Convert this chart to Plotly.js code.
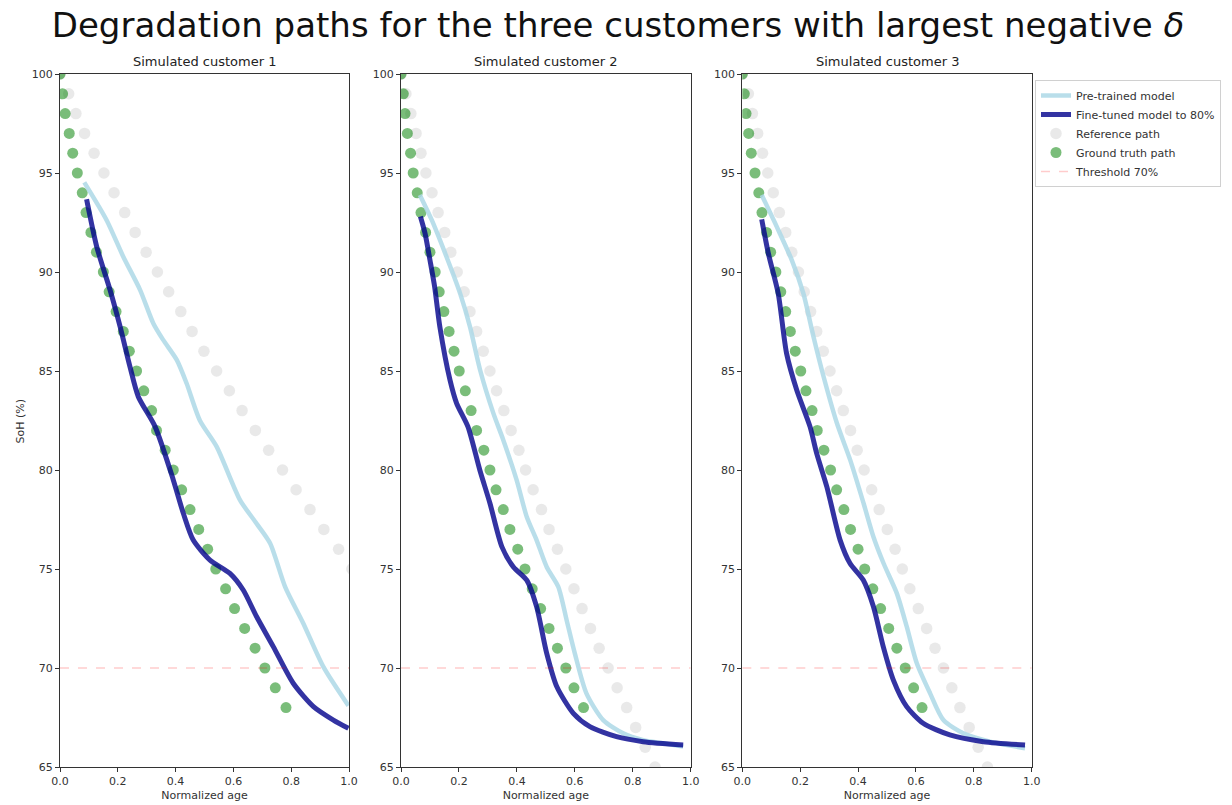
<!DOCTYPE html>
<html>
<head>
<meta charset="utf-8">
<script src="https://cdn.plot.ly/plotly-3.0.1.min.js"></script>
<style>html,body{margin:0;padding:0;background:#fff;}#chart{width:1232px;height:805px;}</style>
</head>
<body>
<div id="chart"></div>
<script>
// ---------- data ----------
const panelTitles = ["Simulated customer 1", "Simulated customer 2", "Simulated customer 3"];
const seriesNames = ["Pre-trained model", "Fine-tuned model to 80%", "Reference path", "Ground truth path", "Threshold 70%"];
const xTicks = [0.0, 0.2, 0.4, 0.6, 0.8, 1.0];
const xTickText = ["0.0", "0.2", "0.4", "0.6", "0.8", "1.0"];
const yTicks = [65, 70, 75, 80, 85, 90, 95, 100];
const thresholdX = [0, 1];
const thresholdY = [70, 70];

// ground truth SoH levels (all customers)
const gtY = [100,99,98,97,96,95,94,93,92,91,90,89,88,87,86,85,84,83,82,81,80,79,78,77,76,75,74,73,72,71,70,69,68];
// reference path SoH levels
const ref1Y = [100,99,98,97,96,95,94,93,92,91,90,89,88,87,86,85,84,83,82,81,80,79,78,77,76,75];
const ref23Y = [100,99,98,97,96,95,94,93,92,91,90,89,88,87,86,85,84,83,82,81,80,79,78,77,76,75,74,73,72,71,70,69,68,67,66,65];

// customer 1
const gt1X = [0.0,0.009,0.018,0.032,0.044,0.06,0.077,0.09,0.107,0.126,0.15,0.17,0.194,0.219,0.24,0.265,0.29,0.317,0.334,0.364,0.392,0.421,0.45,0.48,0.511,0.539,0.573,0.604,0.639,0.675,0.709,0.745,0.782];
const ref1X = [0.0,0.03,0.055,0.085,0.118,0.152,0.187,0.224,0.26,0.298,0.337,0.376,0.418,0.457,0.498,0.542,0.586,0.63,0.676,0.722,0.77,0.817,0.865,0.913,0.964,1.01];
const pre1X = [0.084,0.161,0.219,0.277,0.323,0.357,0.404,0.438,0.484,0.542,0.623,0.68,0.727,0.779,0.842,0.911,0.998];
const pre1Y = [94.53,92.63,90.77,89.1,87.4,86.57,85.56,84.38,82.5,81.18,78.48,77.3,76.3,74.1,72.25,70.07,68.1];
const ft1X = [0.092,0.127,0.173,0.208,0.242,0.271,0.329,0.392,0.427,0.461,0.519,0.588,0.634,0.68,0.738,0.807,0.877,0.946,0.998];
const ft1Y = [93.67,91.28,89.1,87.24,85.22,83.7,82.19,79.5,77.8,76.46,75.45,74.78,73.94,72.6,71.08,69.23,68.05,67.37,66.95];

// customer 2
const gt2X = [0.0,0.008,0.014,0.022,0.033,0.042,0.056,0.069,0.085,0.1,0.118,0.132,0.148,0.166,0.183,0.201,0.222,0.242,0.261,0.286,0.307,0.328,0.353,0.376,0.403,0.428,0.453,0.482,0.511,0.54,0.569,0.597,0.63];
const ref2X = [0.0,0.017,0.034,0.052,0.069,0.086,0.107,0.128,0.151,0.172,0.194,0.218,0.238,0.261,0.284,0.307,0.33,0.355,0.38,0.407,0.43,0.456,0.485,0.511,0.54,0.569,0.597,0.625,0.654,0.684,0.715,0.746,0.779,0.81,0.843,0.877];
const pre2X = [0.065,0.106,0.157,0.204,0.238,0.273,0.319,0.353,0.399,0.434,0.468,0.503,0.543,0.572,0.6,0.64,0.698,0.767,0.836,0.905,0.974];
const pre2Y = [93.89,92.63,90.77,88.92,87.24,85.05,82.86,81.52,79.5,77.64,76.46,75.1,74.1,72.4,70.74,68.72,67.37,66.7,66.36,66.2,66.03];
const ft2X = [0.067,0.083,0.1,0.116,0.134,0.169,0.192,0.231,0.272,0.307,0.348,0.388,0.434,0.468,0.503,0.538,0.595,0.652,0.744,0.836,0.974];
const ft2Y = [92.8,91.95,90.6,89.26,87.24,84.55,83.37,82.19,80.0,78.32,76.13,75.1,74.44,73.1,70.74,69.05,67.71,67.04,66.53,66.28,66.11];

// customer 3
const gt3X = [0.0,0.007,0.013,0.022,0.031,0.044,0.057,0.068,0.084,0.098,0.116,0.133,0.15,0.166,0.183,0.202,0.22,0.241,0.259,0.282,0.305,0.326,0.351,0.374,0.4,0.423,0.451,0.478,0.506,0.534,0.563,0.592,0.621];
const ref3X = [0.0,0.021,0.035,0.053,0.07,0.088,0.107,0.128,0.15,0.171,0.194,0.214,0.236,0.257,0.28,0.303,0.326,0.349,0.374,0.397,0.421,0.447,0.473,0.501,0.528,0.553,0.579,0.608,0.637,0.666,0.695,0.724,0.752,0.784,0.815,0.847];
const pre3X = [0.067,0.119,0.171,0.211,0.246,0.281,0.327,0.373,0.419,0.453,0.488,0.534,0.568,0.603,0.649,0.695,0.764,0.856,0.977];
const pre3Y = [93.89,92.29,90.6,88.92,86.73,84.71,82.36,80.5,78.32,76.63,75.29,73.77,72.1,70.24,68.72,67.37,66.7,66.28,65.95];
const ft3X = [0.067,0.09,0.124,0.153,0.188,0.234,0.257,0.292,0.338,0.372,0.418,0.453,0.487,0.522,0.568,0.625,0.717,0.833,0.977];
const ft3Y = [92.66,90.94,88.92,85.89,84.04,82.19,80.84,79.16,76.46,75.29,74.44,73.1,71.08,69.39,68.05,67.21,66.62,66.28,66.11];

// ---------- styles ----------
const C_PRE = "rgba(173,216,230,0.85)";
const C_FT = "rgba(0,0,139,0.8)";
const C_REF = "rgba(211,211,211,0.5)";
const C_GT = "rgba(0,128,0,0.52)";
const C_THR = "rgba(255,0,0,0.2)";
const FONT = "DejaVu Sans, Liberation Sans, sans-serif";

const panels = [
  {gtX: gt1X, refX: ref1X, refY: ref1Y, preX: pre1X, preY: pre1Y, ftX: ft1X, ftY: ft1Y},
  {gtX: gt2X, refX: ref2X, refY: ref23Y, preX: pre2X, preY: pre2Y, ftX: ft2X, ftY: ft2Y},
  {gtX: gt3X, refX: ref3X, refY: ref23Y, preX: pre3X, preY: pre3Y, ftX: ft3X, ftY: ft3Y}
];

const W = 1232, H = 805;
const xDomPx = [[60, 349], [401, 690.7], [742.3, 1031.7]];
const yTopPx = 74, yBotPx = 767;
const yDom = [1 - yBotPx / H, 1 - yTopPx / H];

const traces = [];
panels.forEach((p, i) => {
  const xa = i === 0 ? "x" : "x" + (i + 1);
  const ya = i === 0 ? "y" : "y" + (i + 1);
  const show = i === 0;
  traces.push({x: p.refX, y: p.refY, xaxis: xa, yaxis: ya, type: "scatter", mode: "markers",
    name: seriesNames[2], legendrank: 3, showlegend: show, legendgroup: "ref",
    marker: {color: C_REF, size: 11.5, line: {width: 0}}, hoverinfo: "skip"});
  traces.push({x: p.gtX, y: gtY, xaxis: xa, yaxis: ya, type: "scatter", mode: "markers",
    name: seriesNames[3], legendrank: 4, showlegend: show, legendgroup: "gt",
    marker: {color: C_GT, size: 11, line: {width: 0}}, hoverinfo: "skip"});
  traces.push({x: p.preX, y: p.preY, xaxis: xa, yaxis: ya, type: "scatter", mode: "lines",
    name: seriesNames[0], legendrank: 1, showlegend: show, legendgroup: "pre",
    line: {color: C_PRE, width: 4.5, shape: "spline", smoothing: 0.7}, hoverinfo: "skip"});
  traces.push({x: p.ftX, y: p.ftY, xaxis: xa, yaxis: ya, type: "scatter", mode: "lines",
    name: seriesNames[1], legendrank: 2, showlegend: show, legendgroup: "ft",
    line: {color: C_FT, width: 5, shape: "spline", smoothing: 0.7}, hoverinfo: "skip"});
  traces.push({x: thresholdX, y: thresholdY, xaxis: xa, yaxis: ya, type: "scatter", mode: "lines",
    name: seriesNames[4], legendrank: 5, showlegend: show, legendgroup: "thr",
    line: {color: C_THR, width: 1.5, dash: "dash"}, hoverinfo: "skip"});
});

const layout = {
  width: W, height: H,
  margin: {l: 0, r: 0, t: 0, b: 0},
  paper_bgcolor: "#fff", plot_bgcolor: "#fff",
  font: {family: FONT, size: 11, color: "#333"},
  title: {text: "Degradation paths for the three customers with largest negative <i>δ</i>",
    font: {family: FONT, size: 34, color: "#111"}, x: 618 / W, xanchor: "center", y: 1 - 25 / H, yanchor: "middle"},
  showlegend: true,
  legend: {x: 1035 / W, y: 1 - 80 / H, xanchor: "left", yanchor: "top",
    bgcolor: "#fff", bordercolor: "#d0d0d0", borderwidth: 1,
    font: {family: FONT, size: 11, color: "#333"}, tracegroupgap: 0, itemwidth: 30},
  annotations: [],
  hovermode: false
};

panels.forEach((p, i) => {
  const k = i === 0 ? "" : String(i + 1);
  const dom = [xDomPx[i][0] / W, xDomPx[i][1] / W];
  layout["xaxis" + k] = {
    domain: dom, range: [0, 1], anchor: "y" + k,
    tickvals: xTicks, ticktext: xTickText, ticks: "outside", ticklen: 4, tickcolor: "#333",
    showline: true, linecolor: "#333", linewidth: 1, mirror: true,
    showgrid: false, zeroline: false,
    tickfont: {family: FONT, size: 11, color: "#333"},
    title: {text: "Normalized age", font: {family: FONT, size: 11, color: "#333"}, standoff: 4}
  };
  layout["yaxis" + k] = {
    domain: yDom, range: [65, 100], anchor: "x" + k,
    tickvals: yTicks, ticks: "outside", ticklen: 4, tickcolor: "#333",
    showline: true, linecolor: "#333", linewidth: 1, mirror: true,
    showgrid: false, zeroline: false,
    tickfont: {family: FONT, size: 11, color: "#333"}
  };
  layout.annotations.push({
    text: panelTitles[i], xref: "paper", yref: "paper",
    x: (dom[0] + dom[1]) / 2, y: yDom[1], xanchor: "center", yanchor: "bottom", yshift: 3,
    showarrow: false, font: {family: FONT, size: 13, color: "#222"}
  });
});

layout.annotations.push({
  text: "SoH (%)", xref: "paper", yref: "paper", x: 20 / W, y: (yDom[0] + yDom[1]) / 2,
  xanchor: "center", yanchor: "middle", textangle: -90, showarrow: false,
  font: {family: FONT, size: 11, color: "#333"}
});

Plotly.newPlot("chart", traces, layout, {displayModeBar: false, staticPlot: true});
</script>
</body>
</html>
